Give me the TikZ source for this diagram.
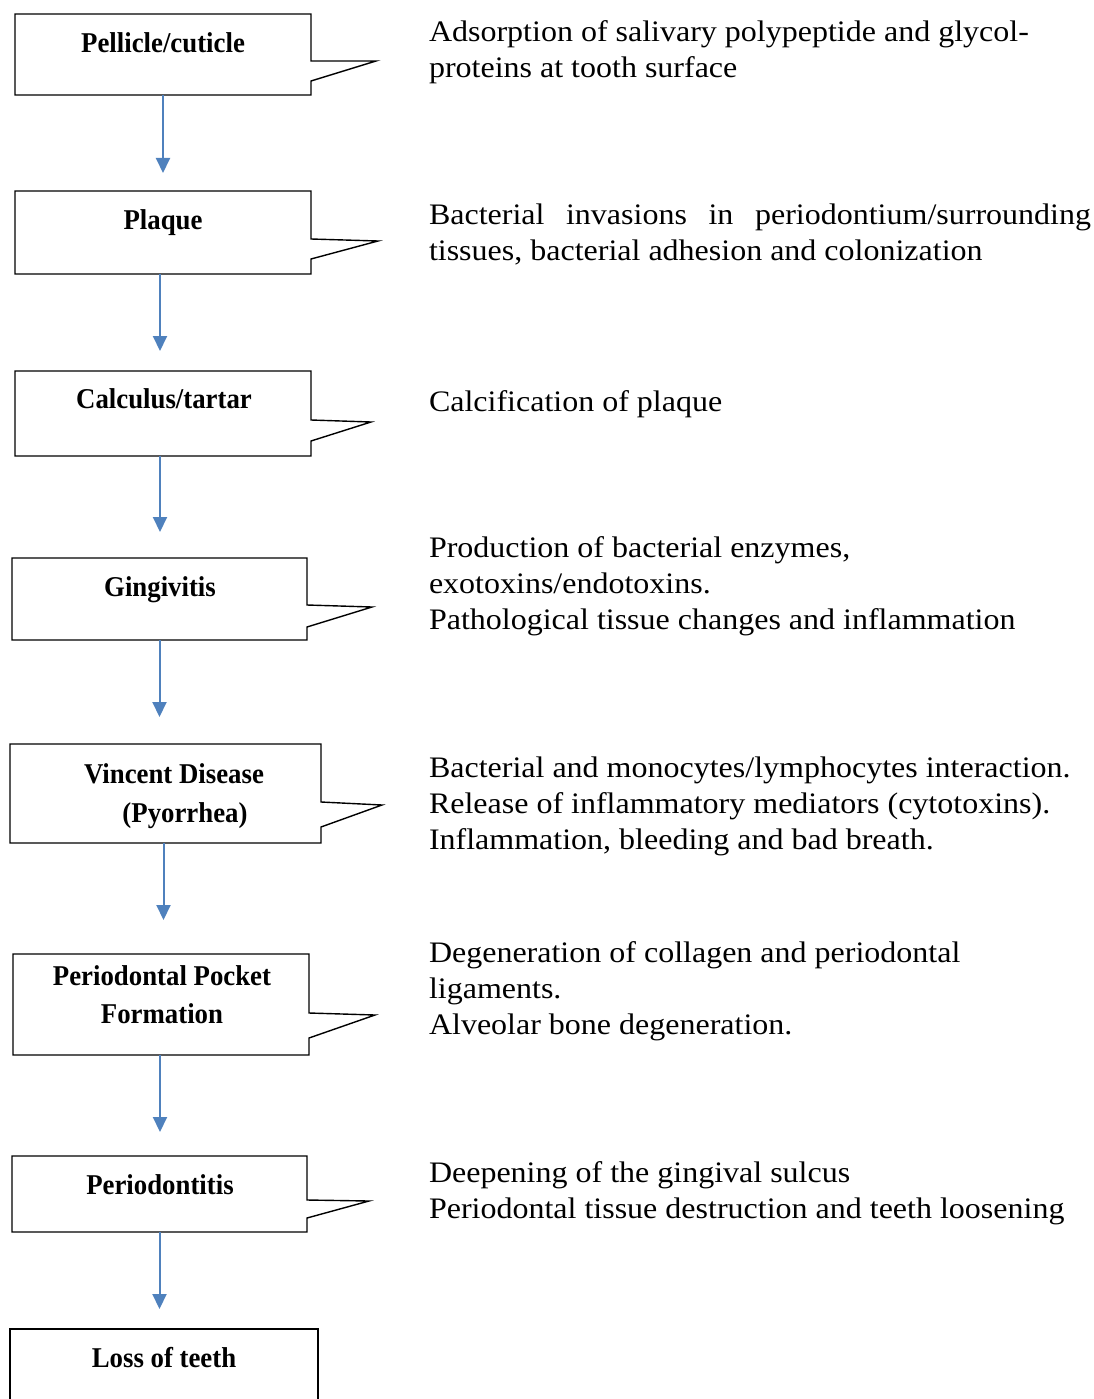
\documentclass[tikz,border=0pt]{standalone}
\usepackage{fontspec}
\setmainfont{Liberation Serif}
\usetikzlibrary{arrows.meta,fit}
\definecolor{flowblue}{RGB}{79,129,189}
\newcommand{\rtxt}[1]{\scalebox{1}[0.93]{#1}}
\newcommand{\btxt}[1]{\scalebox{1}[1.07]{#1}}
% name, x1, y1, x2, y2, pointer top y, tip x, tip y, pointer bottom y
\newcommand{\calloutbox}[9]{%
  \node[fit={(#2,#3) (#4,#5)}, inner sep=0pt, outer sep=0pt] (#1) {};
  \draw[boxline] (#2,#3) -- (#4,#3) -- (#4,#6) -- (#7,#8) -- (#4,#9) -- (#4,#5) -- (#2,#5) -- cycle;}
\begin{document}
\begin{tikzpicture}[x=1pt,y=-1pt,
  boxline/.style={draw=black, line width=1.4pt, line join=miter},
  lbl/.style={inner sep=0pt, outer sep=0pt, anchor=base, font=\fontsize{26.8}{30}\selectfont\bfseries},
  desc/.style={inner sep=0pt, outer sep=0pt, anchor=base west, font=\fontsize{32}{36}\selectfont},
  flow/.style={draw=flowblue, line width=2pt, -{Triangle[width=14pt,length=15pt]}}]
\useasboundingbox (0,0) rectangle (1094,1399);

% boxes
\calloutbox{b1}{15}{14}{311}{95}{61}{376}{61}{81}
\calloutbox{b2}{15}{191}{311}{274}{239}{378}{241}{259}
\calloutbox{b3}{15}{371}{311}{456}{420}{371}{422}{441}
\calloutbox{b4}{12}{558}{307}{640}{605}{372}{607}{627}
\calloutbox{b5}{10}{744}{321}{843}{802}{382}{805}{827}
\calloutbox{b6}{13}{954}{309}{1055}{1013}{375}{1015}{1038}
\calloutbox{b7}{12}{1156}{307}{1232}{1200}{369}{1201}{1218}
\node[fit={(10,1329) (318,1399)}, inner sep=0pt, outer sep=0pt] (b8) {};
\draw[boxline] (10,1400) -- (10,1329) -- (318,1329) -- (318,1400);

% box labels
\node[lbl] (l1) at (163,53) {\btxt{Pellicle/cuticle}};
\node[lbl] (l2) at (163,229) {\btxt{Plaque}};
\node[lbl] (l3) at (164,408) {\btxt{Calculus/tartar}};
\node[lbl] (l4) at (160,596) {\btxt{Gingivitis}};
\node[lbl] (l5a) at (174,783) {\btxt{Vincent Disease}};
\node[lbl] (l5b) at (185,822) {\btxt{(Pyorrhea)}};
\node[lbl] (l6a) at (162,985) {\btxt{Periodontal Pocket}};
\node[lbl] (l6b) at (162,1023) {\btxt{Formation}};
\node[lbl] (l7) at (160,1194) {\btxt{Periodontitis}};
\node[lbl] (l8) at (164,1367) {\btxt{Loss of teeth}};

% arrows
\draw[flow, shorten >=18pt] (b1.south) -- (b1.south |- b2.north);
\draw[flow, shorten >=20pt] ([xshift=-3pt]b2.south) -- ([xshift=-3pt]b2.south |- b3.north);
\draw[flow, shorten >=26pt] ([xshift=-3pt]b3.south) -- ([xshift=-3pt]b3.south |- b4.north);
\draw[flow, shorten >=27pt] (b4.south) -- (b4.south |- b5.north);
\draw[flow, shorten >=34pt] ([xshift=-2pt]b5.south) -- ([xshift=-2pt]b5.south |- b6.north);
\draw[flow, shorten >=24pt] ([xshift=-1pt]b6.south) -- ([xshift=-1pt]b6.south |- b7.north);
\draw[flow, shorten >=20pt] (b7.south) -- (b7.south |- b8.north);

% descriptions
\node[desc] (d1a) at (429,42) {\rtxt{Adsorption of salivary polypeptide and glycol-}};
\node[desc] (d1b) at (429,78) {\rtxt{proteins at tooth surface}};
\node[desc] (d2a) at (429,224) {\rtxt{\makebox[662pt][s]{Bacterial invasions in periodontium/surrounding}}};
\node[desc] (d2b) at (429,260) {\rtxt{tissues, bacterial adhesion and colonization}};
\node[desc] (d3) at (429,411) {\rtxt{Calcification of plaque}};
\node[desc] (d4a) at (429,557) {\rtxt{Production of bacterial enzymes,}};
\node[desc] (d4b) at (429,593) {\rtxt{exotoxins/endotoxins.}};
\node[desc] (d4c) at (429,629) {\rtxt{Pathological tissue changes and inflammation}};
\node[desc] (d5a) at (429,777) {\rtxt{Bacterial and monocytes/lymphocytes interaction.}};
\node[desc] (d5b) at (429,813) {\rtxt{Release of inflammatory mediators (cytotoxins).}};
\node[desc] (d5c) at (429,849) {\rtxt{Inflammation, bleeding and bad breath.}};
\node[desc] (d6a) at (429,962) {\rtxt{Degeneration of collagen and periodontal}};
\node[desc] (d6b) at (429,998) {\rtxt{ligaments.}};
\node[desc] (d6c) at (429,1034) {\rtxt{Alveolar bone degeneration.}};
\node[desc] (d7a) at (429,1182) {\rtxt{Deepening of the gingival sulcus}};
\node[desc] (d7b) at (429,1218) {\rtxt{Periodontal tissue destruction and teeth loosening}};
\end{tikzpicture}
\end{document}
